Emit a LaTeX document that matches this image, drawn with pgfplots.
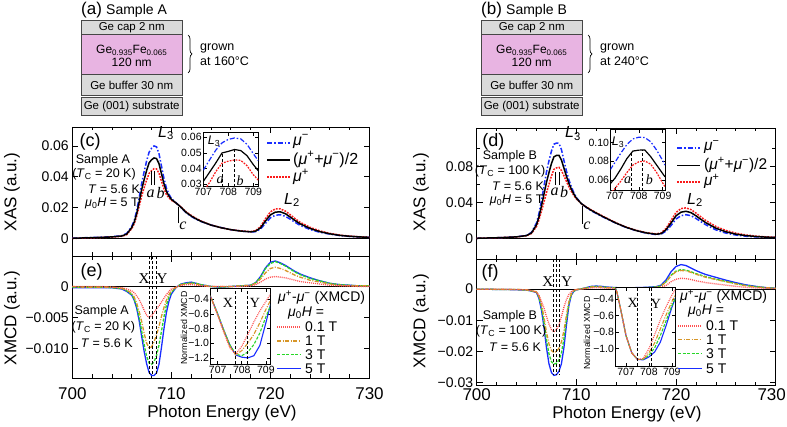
\documentclass[border=0pt]{standalone}
\usepackage{fontspec}
\setmainfont{Liberation Sans}
\newfontfamily\serif{Liberation Serif}
\usepackage{pgfplots}
\usepackage{pgfplotstable}
\pgfplotsset{compat=1.18}
\usetikzlibrary{decorations.pathreplacing}

\definecolor{pinkfill}{RGB}{232,180,226}
\definecolor{greyfill}{RGB}{218,218,218}
\definecolor{boxline}{RGB}{70,70,70}
\definecolor{myblue}{RGB}{25,45,255}
\definecolor{myred}{RGB}{250,25,25}
\definecolor{lred}{RGB}{255,80,80}
\definecolor{myorange}{RGB}{215,150,40}
\definecolor{mygreen}{RGB}{40,215,40}

\newcommand{\fs}[1]{\fontsize{#1}{#1}\selectfont}
\newcommand{\mup}{\textit{μ}\textsuperscript{+}}
\newcommand{\mum}{\textit{μ}\textsuperscript{−}}
\newcommand{\muH}{\textit{μ}\textsubscript{0}\textit{H}}
\newcommand{\Lt}{\textit{L}\textsubscript{3}}
\newcommand{\Ld}{\textit{L}\textsubscript{2}}
\newcommand{\TC}{\textit{T}\textsubscript{C}}
\newcommand{\si}[1]{{\serif\itshape #1}}
\newcommand{\sr}[1]{{\serif #1}}

\pgfplotstableread{
E avg mum mup
700 0.0000 0.0001 -0.0001
701 0.0002 0.0003 0.0001
702 0.0004 0.0005 0.0003
703 0.0006 0.0007 0.0005
704 0.0009 0.0010 0.0008
705 0.0015 0.0017 0.0013
705.5 0.0028 0.0032 0.0024
706 0.0070 0.0077 0.0063
706.25 0.0105 0.0116 0.0094
706.5 0.0160 0.0178 0.0143
706.75 0.0235 0.0263 0.0208
707 0.0315 0.0355 0.0275
707.25 0.0380 0.0432 0.0328
707.5 0.0440 0.0502 0.0378
707.75 0.0490 0.0559 0.0421
708 0.0510 0.0585 0.0439
708.25 0.0522 0.0600 0.0452
708.5 0.0518 0.0594 0.0451
708.75 0.0485 0.0550 0.0423
709 0.0420 0.0469 0.0371
709.25 0.0355 0.0389 0.0321
709.5 0.0305 0.0326 0.0284
709.75 0.0275 0.0287 0.0263
710 0.0253 0.0259 0.0247
710.5 0.0228 0.0229 0.0228
711 0.0200 0.0198 0.0202
711.5 0.0168 0.0165 0.0171
712 0.0145 0.0142 0.0149
712.5 0.0126 0.0124 0.0129
713 0.0110 0.0109 0.0112
714 0.0086 0.0086 0.0086
715 0.0069 0.0070 0.0069
716 0.0056 0.0056 0.0056
717 0.0047 0.0047 0.0048
718 0.0042 0.0041 0.0043
718.5 0.0046 0.0043 0.0049
719 0.0068 0.0060 0.0076
719.5 0.0112 0.0097 0.0127
720 0.0152 0.0133 0.0172
720.5 0.0170 0.0150 0.0191
721 0.0172 0.0153 0.0191
721.5 0.0160 0.0143 0.0177
722 0.0138 0.0124 0.0153
722.5 0.0115 0.0103 0.0127
723 0.0094 0.0084 0.0104
724 0.0064 0.0057 0.0071
725 0.0043 0.0039 0.0048
726 0.0029 0.0027 0.0032
727 0.0019 0.0018 0.0021
728 0.0013 0.0012 0.0014
729 0.0009 0.0009 0.0010
730 0.0006 0.0006 0.0006
}\xasA

\pgfplotstableread{
E avg mum mup
700 0.0000 0.0000 0.0000
701 0.0003 0.0003 0.0003
702 0.0006 0.0006 0.0006
703 0.0010 0.0010 0.0010
704 0.0016 0.0017 0.0015
705 0.0030 0.0032 0.0028
705.5 0.0060 0.0066 0.0054
706 0.0150 0.0170 0.0130
706.25 0.0240 0.0275 0.0205
706.5 0.0360 0.0418 0.0302
706.75 0.0490 0.0578 0.0403
707 0.0620 0.0734 0.0506
707.25 0.0730 0.0861 0.0599
707.5 0.0830 0.0969 0.0692
707.75 0.0905 0.1045 0.0766
708 0.0920 0.1058 0.0782
708.25 0.0922 0.1055 0.0789
708.5 0.0870 0.0986 0.0754
708.75 0.0780 0.0865 0.0695
709 0.0690 0.0748 0.0633
709.25 0.0610 0.0649 0.0571
709.5 0.0545 0.0571 0.0519
709.75 0.0490 0.0506 0.0475
710 0.0445 0.0453 0.0438
710.5 0.0385 0.0386 0.0384
711 0.0345 0.0343 0.0348
711.5 0.0310 0.0306 0.0315
712 0.0280 0.0275 0.0285
712.5 0.0250 0.0246 0.0255
713 0.0222 0.0219 0.0226
714 0.0168 0.0166 0.0171
715 0.0122 0.0120 0.0124
716 0.0086 0.0084 0.0089
717 0.0060 0.0057 0.0063
718 0.0045 0.0041 0.0049
718.5 0.0052 0.0046 0.0059
719 0.0095 0.0080 0.0110
719.5 0.0170 0.0142 0.0198
720 0.0250 0.0214 0.0287
720.5 0.0290 0.0251 0.0330
721 0.0300 0.0262 0.0338
721.5 0.0285 0.0251 0.0319
722 0.0250 0.0220 0.0280
722.5 0.0210 0.0184 0.0237
723 0.0172 0.0149 0.0196
724 0.0112 0.0093 0.0131
725 0.0072 0.0058 0.0087
726 0.0046 0.0036 0.0057
727 0.0030 0.0023 0.0037
728 0.0020 0.0016 0.0025
729 0.0013 0.0011 0.0016
730 0.0009 0.0008 0.0011
}\xasB

\pgfplotstableread{
E h01 h1 h3 h5
700 0.0000 0.0000 -0.0001 -0.0002
701 0.0000 -0.0001 -0.0001 -0.0002
702 0.0000 -0.0001 -0.0001 -0.0002
703 0.0000 -0.0001 -0.0001 -0.0002
704 -0.0001 -0.0001 -0.0002 -0.0002
705 -0.0002 -0.0003 -0.0003 -0.0004
705.5 -0.0004 -0.0006 -0.0007 -0.0008
706 -0.0007 -0.0011 -0.0013 -0.0014
706.25 -0.0010 -0.0017 -0.0020 -0.0022
706.5 -0.0015 -0.0027 -0.0032 -0.0035
706.75 -0.0021 -0.0040 -0.0049 -0.0055
707 -0.0029 -0.0056 -0.0071 -0.0080
707.25 -0.0038 -0.0075 -0.0093 -0.0104
707.5 -0.0046 -0.0091 -0.0112 -0.0124
707.75 -0.0050 -0.0099 -0.0123 -0.0138
708 -0.0047 -0.0097 -0.0125 -0.0143
708.25 -0.0042 -0.0089 -0.0121 -0.0143
708.5 -0.0036 -0.0078 -0.0111 -0.0139
708.75 -0.0031 -0.0064 -0.0094 -0.0125
709 -0.0025 -0.0048 -0.0072 -0.0098
709.25 -0.0019 -0.0034 -0.0049 -0.0068
709.5 -0.0013 -0.0022 -0.0030 -0.0042
709.75 -0.0008 -0.0013 -0.0017 -0.0024
710 -0.0004 -0.0007 -0.0009 -0.0012
710.5 -0.0001 -0.0001 -0.0001 -0.0001
711 0.0002 0.0003 0.0004 0.0004
711.5 0.0003 0.0004 0.0005 0.0006
712 0.0003 0.0005 0.0006 0.0007
712.5 0.0002 0.0004 0.0005 0.0005
713 0.0001 0.0002 0.0003 0.0003
714 0.0000 0.0000 0.0000 0.0000
715 0.0000 0.0000 -0.0001 -0.0001
716 0.0000 0.0000 0.0000 0.0000
717 0.0000 0.0001 0.0001 0.0001
718 0.0001 0.0002 0.0002 0.0002
718.5 0.0003 0.0005 0.0006 0.0006
719 0.0007 0.0012 0.0015 0.0016
719.5 0.0012 0.0022 0.0029 0.0030
720 0.0015 0.0029 0.0037 0.0039
720.5 0.0016 0.0031 0.0040 0.0041
721 0.0015 0.0029 0.0037 0.0038
721.5 0.0014 0.0026 0.0033 0.0034
722 0.0012 0.0022 0.0028 0.0029
722.5 0.0010 0.0018 0.0023 0.0024
723 0.0008 0.0015 0.0019 0.0020
724 0.0006 0.0010 0.0013 0.0014
725 0.0004 0.0007 0.0009 0.0009
726 0.0002 0.0004 0.0005 0.0005
727 0.0001 0.0002 0.0003 0.0003
728 0.0001 0.0001 0.0002 0.0002
729 0.0000 0.0001 0.0001 0.0001
730 0.0000 0.0001 0.0001 0.0001
}\xmcdA

\pgfplotstableread{
E h01 h1 h3 h5
700 0.0000 0.0000 0.0000 0.0000
701 0.0000 0.0000 0.0000 0.0000
702 0.0000 0.0000 -0.0001 -0.0001
703 0.0000 -0.0001 -0.0001 -0.0001
704 -0.0001 -0.0001 -0.0001 -0.0002
705 -0.0002 -0.0002 -0.0003 -0.0003
705.5 -0.0005 -0.0005 -0.0006 -0.0006
706 -0.0010 -0.0008 -0.0010 -0.0011
706.25 -0.0020 -0.0022 -0.0026 -0.0030
706.5 -0.0040 -0.0050 -0.0059 -0.0068
706.75 -0.0060 -0.0090 -0.0106 -0.0122
707 -0.0088 -0.0138 -0.0163 -0.0188
707.25 -0.0112 -0.0176 -0.0208 -0.0240
707.5 -0.0130 -0.0197 -0.0233 -0.0268
707.75 -0.0137 -0.0204 -0.0241 -0.0277
708 -0.0130 -0.0200 -0.0238 -0.0275
708.25 -0.0115 -0.0190 -0.0228 -0.0264
708.5 -0.0088 -0.0170 -0.0205 -0.0240
708.75 -0.0058 -0.0134 -0.0160 -0.0188
709 -0.0034 -0.0085 -0.0098 -0.0116
709.25 -0.0017 -0.0040 -0.0045 -0.0052
709.5 -0.0008 -0.0015 -0.0017 -0.0019
709.75 -0.0003 -0.0005 -0.0006 -0.0007
710 -0.0001 -0.0001 -0.0002 -0.0002
710.5 0.0000 0.0001 0.0001 0.0001
711 0.0002 0.0004 0.0004 0.0005
711.5 0.0004 0.0007 0.0008 0.0009
712 0.0005 0.0008 0.0009 0.0010
712.5 0.0004 0.0007 0.0008 0.0009
713 0.0003 0.0005 0.0006 0.0007
714 0.0002 0.0004 0.0004 0.0005
715 0.0002 0.0003 0.0003 0.0004
716 0.0002 0.0003 0.0004 0.0005
717 0.0003 0.0004 0.0005 0.0006
718 0.0004 0.0006 0.0007 0.0008
718.5 0.0006 0.0010 0.0011 0.0013
719 0.0012 0.0023 0.0024 0.0030
719.5 0.0024 0.0043 0.0045 0.0056
720 0.0032 0.0056 0.0058 0.0073
720.5 0.0035 0.0060 0.0063 0.0079
721 0.0034 0.0059 0.0061 0.0076
721.5 0.0031 0.0054 0.0056 0.0068
722 0.0027 0.0048 0.0050 0.0060
722.5 0.0024 0.0043 0.0045 0.0053
723 0.0021 0.0038 0.0040 0.0047
724 0.0017 0.0031 0.0032 0.0038
725 0.0013 0.0024 0.0025 0.0029
726 0.0009 0.0017 0.0018 0.0021
727 0.0006 0.0011 0.0012 0.0014
728 0.0004 0.0007 0.0008 0.0009
729 0.0003 0.0005 0.0005 0.0005
730 0.0002 0.0003 0.0003 0.0003
}\xmcdB

\pgfplotstableread{
E avg mum mup
707 0.0317 0.0389 0.0252
707.25 0.0376 0.0455 0.0310
707.5 0.0436 0.0518 0.0380
707.75 0.0500 0.0565 0.0434
708 0.0510 0.0587 0.0447
708.25 0.0522 0.0596 0.0455
708.5 0.0515 0.0590 0.0452
708.75 0.0482 0.0555 0.0418
709 0.0425 0.0495 0.0360
709.2 0.0385 0.0450 0.0325
}\insA

\pgfplotstableread{
E avg mum mup
706.8 0.0560 0.0710 0.0450
707 0.0620 0.0790 0.0510
707.25 0.0720 0.0890 0.0590
707.5 0.0830 0.0980 0.0680
707.75 0.0910 0.1040 0.0760
708 0.0920 0.1058 0.0795
708.25 0.0922 0.1055 0.0804
708.5 0.0850 0.1010 0.0770
708.75 0.0760 0.0920 0.0680
709 0.0670 0.0810 0.0570
709.1 0.0634 0.0760 0.0530
}\insB

\pgfplotstableread{
E n01 n1 n3 n5
706.5 -0.22 -0.22 -0.22 -0.22
706.75 -0.40 -0.40 -0.40 -0.40
707 -0.62 -0.61 -0.60 -0.60
707.25 -0.85 -0.83 -0.82 -0.82
707.5 -1.06 -1.04 -1.02 -1.02
707.75 -1.15 -1.16 -1.15 -1.16
708 -1.04 -1.10 -1.17 -1.19
708.25 -0.88 -1.00 -1.12 -1.20
708.5 -0.71 -0.88 -1.02 -1.17
708.75 -0.56 -0.72 -0.86 -1.03
709 -0.43 -0.54 -0.64 -0.72
709.25 -0.30 -0.38 -0.44 -0.40
}\nA

\pgfplotstableread{
E n01 n1 n3 n5
706.45 -0.20 -0.20 -0.20 -0.20
706.6 -0.31 -0.31 -0.31 -0.31
706.75 -0.50 -0.50 -0.50 -0.50
707 -0.84 -0.84 -0.84 -0.84
707.25 -1.05 -1.05 -1.05 -1.05
707.5 -1.13 -1.13 -1.13 -1.13
707.75 -1.12 -1.13 -1.13 -1.135
708 -1.00 -1.05 -1.08 -1.10
708.25 -0.83 -0.93 -0.99 -1.04
708.5 -0.65 -0.76 -0.84 -0.92
708.75 -0.49 -0.59 -0.66 -0.72
709 -0.35 -0.43 -0.48 -0.50
709.2 -0.26 -0.32 -0.36 -0.35
}\nB

\tikzset{
 lmum/.style={color=myblue, line width=1.5pt, dash pattern=on 5pt off 2pt on 1.5pt off 2pt},
 lavg/.style={color=black, line width=1.5pt},
 lmup/.style={color=myred, line width=1.5pt, dash pattern=on 1.8pt off 1.2pt},
 l01/.style={color=lred, line width=1.3pt, dash pattern=on 1pt off 1pt},
 l1/.style={color=myorange, line width=1.3pt, dash pattern=on 4pt off 1.5pt on 1pt off 1.5pt},
 l3/.style={color=mygreen, line width=1.3pt, dash pattern=on 3pt off 1.5pt},
 l5/.style={color=myblue, line width=1.3pt},
}
\pgfplotsset{
 panel/.style={scale only axis, axis line style={line width=0.9pt},
   tick style={black, line width=0.8pt}, scaled ticks=false,
   major tick length=6pt, minor tick length=3.5pt, tick align=inside,
   xmin=700, xmax=730, xtick={700,710,720,730},
   minor xtick={702,704,706,708,712,714,716,718,722,724,726,728},
   tick label style={font=\fs{14}}, /pgf/number format/assume math mode=true},
 inset/.style={scale only axis, axis line style={line width=0.8pt}, scaled ticks=false,
   tick style={black, line width=0.6pt}, major tick length=3.5pt, tick align=inside,
   tick label style={font=\fs{10.5}, inner sep=1.5pt}, axis background/.style={fill=white},
   /pgf/number format/assume math mode=true},
}

\begin{document}
\begin{tikzpicture}[x=1pt,y=1pt]
\useasboundingbox (0,0) rectangle (787,426);

% ===== Layer diagrams =====
\foreach \ox/\lab/\smp/\temp in {0/a/A/160, 400/b/B/240}{
  \begin{scope}[xshift=\ox pt]
  \node[anchor=west, font=\fs{17}, inner sep=0] at (81,426-10) {(\lab)};
  \node[anchor=west, font=\fs{14}, inner sep=0] at (106,426-10.5) {Sample \smp};
  \draw[boxline, line width=0.9pt, fill=greyfill] (81,426-20.7) rectangle (182.3,426-34.3);
  \draw[boxline, line width=0.9pt, fill=pinkfill] (81,426-34.3) rectangle (182.3,426-74);
  \draw[boxline, line width=0.9pt, fill=greyfill] (81,426-74) rectangle (182.3,426-95.7);
  \draw[boxline, line width=0.9pt, fill=greyfill] (81,426-97.5) rectangle (182.3,426-115);
  \node[font=\fs{11.5}] at (131.7,426-27.5) {Ge cap 2 nm};
  \node[font=\fs{12}] at (131.7,426-50) {Ge\textsubscript{0.935}Fe\textsubscript{0.065}};
  \node[font=\fs{12}] at (131.7,426-62) {120 nm};
  \node[font=\fs{11.5}] at (131.7,426-85) {Ge buffer 30 nm};
  \node[font=\fs{11.5}] at (131.7,426-106.3) {Ge (001) substrate};
  \draw[line width=0.7pt, decorate, decoration={brace, amplitude=4pt}] (188,426-35) -- (188,426-73);
  \node[anchor=west, font=\fs{12.5}, inner sep=0] at (200,426-48) {grown};
  \node[anchor=west, font=\fs{12.5}, inner sep=0] at (200,426-61.5) {at \temp°C};
  \end{scope}
}

% ===== (c) XAS sample A =====
\begin{axis}[panel, at={(72.3pt,299pt)}, anchor=north west, width=297.2pt, height=129pt,
  ymin=-0.0115, ymax=0.0723, ytick={0,0.02,0.04,0.06}, yticklabels={0,0.02,0.04,0.06},
  xticklabels={}]
\draw[line width=0.9pt] (axis cs:700,0) -- (axis cs:730,0);
\addplot[lmum] table[x=E,y=mum] {\xasA};
\addplot[lmup] table[x=E,y=mup] {\xasA};
\addplot[lavg] table[x=E,y=avg] {\xasA};
\draw[line width=0.8pt] (axis cs:707.95,0.0345) -- (axis cs:707.95,0.0440);
\draw[line width=0.8pt] (axis cs:708.3,0.0345) -- (axis cs:708.3,0.0440);
\draw[line width=0.8pt] (axis cs:710.75,0.0097) -- (axis cs:710.75,0.0205);
\end{axis}

% inset (c)
\begin{axis}[inset, at={(203.3pt,293.3pt)}, anchor=north west, width=55pt, height=54pt,
  xmin=707, xmax=709.2, ymin=0.0283, ymax=0.063,
  xtick={707,708,709}, xticklabels={707,708,709},
  ytick={0.03,0.04,0.05,0.06}, yticklabels={0.03,0.04,0.05,0.06}]
\addplot[lmum, line width=1.2pt] table[x=E,y=mum] {\insA};
\addplot[lmup, line width=1.2pt] table[x=E,y=mup] {\insA};
\addplot[lavg, line width=1.2pt] table[x=E,y=avg] {\insA};
\draw[densely dashed, line width=0.7pt] (axis cs:707.75,0.0283) -- (axis cs:707.75,0.0500);
\draw[densely dashed, line width=0.7pt] (axis cs:708.25,0.0283) -- (axis cs:708.25,0.0522);
\end{axis}

% ===== (e) XMCD sample A =====
\begin{axis}[panel, at={(72.3pt,170pt)}, anchor=north west, width=297.2pt, height=122pt,
  ymin=-0.0147, ymax=0.0049, ytick={0,-0.005,-0.010}, yticklabels={0,−0.005,−0.010},
  xticklabels={700,710,720,730}, xticklabel style={font=\fs{17}, yshift=-6pt}]
\draw[line width=0.9pt] (axis cs:700,0) -- (axis cs:730,0);
\addplot[l5] table[x=E,y=h5] {\xmcdA};
\addplot[l3] table[x=E,y=h3] {\xmcdA};
\addplot[l1] table[x=E,y=h1] {\xmcdA};
\addplot[l01] table[x=E,y=h01] {\xmcdA};
\draw[densely dashed, line width=0.7pt] (axis cs:707.75,0.0049) -- (axis cs:707.75,-0.0143);
\draw[densely dashed, line width=0.7pt] (axis cs:708.1,0.0049) -- (axis cs:708.1,-0.0143);
\draw[densely dashed, line width=0.7pt] (axis cs:708.45,0.0049) -- (axis cs:708.45,-0.0143);
\end{axis}

% inset (e)
\begin{axis}[inset, at={(210.7pt,138pt)}, anchor=north west, width=59.3pt, height=76pt,
  xmin=706.71, xmax=709.17, ymin=-1.283, ymax=-0.248,
  xtick={707,708,709}, xticklabels={707,708,709},
  ytick={-1.2,-1.0,-0.8,-0.6,-0.4}, yticklabels={−1.2,−1.0,−0.8,−0.6,−0.4}]
\addplot[l5, line width=1.1pt] table[x=E,y=n5] {\nA};
\addplot[l3, line width=1.1pt] table[x=E,y=n3] {\nA};
\addplot[l1, line width=1.1pt] table[x=E,y=n1] {\nA};
\addplot[l01, line width=1.1pt] table[x=E,y=n01] {\nA};
\draw[densely dashed, line width=0.7pt] (axis cs:707.75,-1.283) -- (axis cs:707.75,-0.248);
\draw[densely dashed, line width=0.7pt] (axis cs:708.25,-1.283) -- (axis cs:708.25,-0.248);
\end{axis}

% ===== (d) XAS sample B =====
\begin{axis}[panel, at={(476.7pt,298pt)}, anchor=north west, width=299pt, height=131pt,
  ymin=-0.0230, ymax=0.1225, ytick={0,0.04,0.08}, yticklabels={0,0.04,0.08},
  minor ytick={0.02,0.06,0.10}, xticklabels={}]
\draw[line width=0.9pt] (axis cs:700,0) -- (axis cs:730,0);
\addplot[lmum] table[x=E,y=mum] {\xasB};
\addplot[lmup] table[x=E,y=mup] {\xasB};
\addplot[lavg] table[x=E,y=avg] {\xasB};
\draw[line width=0.8pt] (axis cs:707.93,0.059) -- (axis cs:707.93,0.074);
\draw[line width=0.8pt] (axis cs:708.26,0.059) -- (axis cs:708.26,0.074);
\draw[line width=0.8pt] (axis cs:710.63,0.016) -- (axis cs:710.63,0.036);
\end{axis}

% inset (d)
\begin{axis}[inset, at={(610.7pt,296.7pt)}, anchor=north west, width=54.3pt, height=61.4pt,
  xmin=706.82, xmax=709.1, ymin=0.0486, ymax=0.1143,
  xtick={707,708,709}, xticklabels={707,708,709},
  ytick={0.06,0.08,0.10}, yticklabels={0.06,0.08,0.10}]
\addplot[lmum, line width=1.2pt] table[x=E,y=mum] {\insB};
\addplot[lmup, line width=1.2pt] table[x=E,y=mup] {\insB};
\addplot[lavg, line width=1.2pt] table[x=E,y=avg] {\insB};
\draw[densely dashed, line width=0.7pt] (axis cs:707.7,0.0486) -- (axis cs:707.7,0.0910);
\draw[densely dashed, line width=0.7pt] (axis cs:708.15,0.0486) -- (axis cs:708.15,0.0921);
\end{axis}

% ===== (f) XMCD sample B =====
\begin{axis}[panel, at={(476.7pt,167pt)}, anchor=north west, width=299pt, height=126pt,
  ymin=-0.0308, ymax=0.0097, ytick={0,-0.01,-0.02,-0.03}, yticklabels={0,−0.01,−0.02,−0.03},
  xticklabels={700,710,720,{\hspace*{-8pt}730}}, xticklabel style={font=\fs{17}}]
\draw[line width=0.9pt] (axis cs:700,0) -- (axis cs:730,0);
\addplot[l5] table[x=E,y=h5] {\xmcdB};
\addplot[l3] table[x=E,y=h3] {\xmcdB};
\addplot[l1] table[x=E,y=h1] {\xmcdB};
\addplot[l01] table[x=E,y=h01] {\xmcdB};
\draw[densely dashed, line width=0.7pt] (axis cs:707.67,0.0097) -- (axis cs:707.67,-0.0277);
\draw[densely dashed, line width=0.7pt] (axis cs:707.97,0.0097) -- (axis cs:707.97,-0.0277);
\draw[densely dashed, line width=0.7pt] (axis cs:708.27,0.0097) -- (axis cs:708.27,-0.0277);
\end{axis}

% inset (f)
\begin{axis}[inset, at={(615.7pt,138.3pt)}, anchor=north west, width=59.3pt, height=78.3pt,
  xmin=706.55, xmax=709.14, ymin=-1.21, ymax=-0.259,
  xtick={707,708,709}, xticklabels={707,708,709},
  ytick={-1.0,-0.8,-0.6,-0.4}, yticklabels={−1.0,−0.8,−0.6,−0.4}]
\addplot[l5, line width=1.1pt] table[x=E,y=n5] {\nB};
\addplot[l3, line width=1.1pt] table[x=E,y=n3] {\nB};
\addplot[l1, line width=1.1pt] table[x=E,y=n1] {\nB};
\addplot[l01, line width=1.1pt] table[x=E,y=n01] {\nB};
\draw[densely dashed, line width=0.7pt] (axis cs:707.5,-1.21) -- (axis cs:707.5,-0.259);
\draw[densely dashed, line width=0.7pt] (axis cs:708.1,-1.21) -- (axis cs:708.1,-0.259);
\end{axis}

% ===== axis labels =====
\node[rotate=90, font=\fs{17}] at (12,426-192) {XAS (a.u.)};
\node[rotate=90, font=\fs{17}] at (12,426-318) {XMCD (a.u.)};
\node[rotate=90, font=\fs{17}] at (421,426-192) {XAS (a.u.)};
\node[rotate=90, font=\fs{17}] at (421,426-321) {XMCD (a.u.)};
\node[font=\fs{17}] at (222,426-413) {Photon Energy (eV)};
\node[font=\fs{17}] at (627,426-414) {Photon Energy (eV)};
\node[rotate=90, font=\fs{8.8}] at (184,426-328) {Normalized XMCD};
\node[rotate=90, font=\fs{8.8}] at (587,426-333) {Normalized XMCD};

% ===== annotations (c) =====
\node[font=\fs{18}] at (90,426-141.7) {(c)};
\node[font=\fs{16}] at (166,426-133) {\Lt};
\node[font=\fs{12.5}] at (103,426-160) {Sample A};
\node[font=\fs{12.5}] at (104,426-174.5) {(\TC\ = 20 K)};
\node[font=\fs{12.5}] at (114,426-189.3) {\textit{T} = 5.6 K};
\node[font=\fs{12.5}] at (112,426-203) {\muH\ = 5 T};
\node[font=\fs{16}] at (150.5,426-193.5) {\si{a}};
\node[font=\fs{16}] at (160.5,426-193.5) {\si{b}};
\node[font=\fs{16}] at (183,426-226) {\si{c}};
\node[font=\fs{16}] at (292,426-200) {\Ld};
\node[font=\fs{12.5}] at (214,426-141) {\Lt};
\node[font=\fs{14}] at (220,426-180.5) {\si{a}};
\node[font=\fs{14}] at (240,426-180.5) {\si{b}};
% legend (c)
\draw[lmum, line width=1.7pt] (267,426-142.7) -- (290,426-142.7);
\draw[lavg, line width=1.7pt] (267,426-160) -- (290,426-160);
\draw[lmup, line width=1.7pt] (267,426-177.3) -- (290,426-177.3);
\node[anchor=west, font=\fs{16}, inner sep=0] at (293,426-141.5) {\mum};
\node[anchor=west, font=\fs{16}, inner sep=0] at (293,426-159.5) {(\mup+\mum)/2};
\node[anchor=west, font=\fs{16}, inner sep=0] at (293,426-176.5) {\mup};

% ===== annotations (d) =====
\node[font=\fs{18}] at (493.3,426-141.7) {(d)};
\node[font=\fs{16}] at (573,426-133.3) {\Lt};
\node[font=\fs{12.5}] at (510,426-156.7) {Sample B};
\node[font=\fs{12.5}] at (510,426-171) {(\TC\ = 100 K)};
\node[font=\fs{12.5}] at (518,426-186) {\textit{T} = 5.6 K};
\node[font=\fs{12.5}] at (516.7,426-200) {\muH\ = 5 T};
\node[font=\fs{16}] at (554.5,426-191.7) {\si{a}};
\node[font=\fs{16}] at (564,426-191.7) {\si{b}};
\node[font=\fs{16}] at (587,426-226) {\si{c}};
\node[font=\fs{16}] at (695,426-200) {\Ld};
\node[font=\fs{12.5}] at (618,426-142) {\Lt};
\node[font=\fs{14}] at (627.7,426-180) {\si{a}};
\node[font=\fs{14}] at (649.3,426-180) {\si{b}};
\draw[lmum, line width=1.7pt] (677,426-148.3) -- (700,426-148.3);
\draw[lavg, line width=1.7pt] (677,426-165.5) -- (700,426-165.5);
\draw[lmup, line width=1.7pt] (677,426-182) -- (700,426-182);
\node[anchor=west, font=\fs{15.5}, inner sep=0] at (704,426-147) {\mum};
\node[anchor=west, font=\fs{15.5}, inner sep=0] at (704,426-165) {(\mup+\mum)/2};
\node[anchor=west, font=\fs{15.5}, inner sep=0] at (704,426-181.5) {\mup};

% ===== annotations (e) =====
\node[font=\fs{18}] at (91.7,426-271.7) {(e)};
\node[font=\fs{15}] at (144,426-278.3) {\sr{X}};
\node[font=\fs{15}] at (162,426-278.3) {\sr{Y}};
\node[font=\fs{12.5}] at (101.7,426-311.7) {Sample A};
\node[font=\fs{12.5}] at (103.3,426-327.3) {(\TC\ = 20 K)};
\node[font=\fs{12.5}] at (106.7,426-342.7) {\textit{T} = 5.6 K};
\node[font=\fs{14}] at (228,426-302.7) {\sr{X}};
\node[font=\fs{14}] at (255,426-302.7) {\sr{Y}};
\node[anchor=west, font=\fs{14}, inner sep=0] at (278,426-298) {\mup-\mum\ (XMCD)};
\node[anchor=west, font=\fs{14}, inner sep=0] at (288,426-313) {\muH\ =};
\draw[l01, line width=1.6pt] (277,426-326.7) -- (301,426-326.7);
\draw[l1, line width=1.6pt] (277,426-340.7) -- (301,426-340.7);
\draw[l3, line width=1.6pt] (277,426-354.3) -- (301,426-354.3);
\draw[l5, line width=1.6pt] (277,426-368.3) -- (301,426-368.3);
\node[anchor=west, font=\fs{14}, inner sep=0] at (305,426-326.7) {0.1 T};
\node[anchor=west, font=\fs{14}, inner sep=0] at (305,426-340.7) {1 T};
\node[anchor=west, font=\fs{14}, inner sep=0] at (305,426-354.3) {3 T};
\node[anchor=west, font=\fs{14}, inner sep=0] at (305,426-368.3) {5 T};

% ===== annotations (f) =====
\node[font=\fs{18}] at (490,426-273.3) {(f)};
\node[font=\fs{15}] at (547.7,426-281.7) {\sr{X}};
\node[font=\fs{15}] at (566.7,426-281.7) {\sr{Y}};
\node[font=\fs{12.5}] at (510,426-316.7) {Sample B};
\node[font=\fs{12.5}] at (511,426-331.7) {(\TC\ = 100 K)};
\node[font=\fs{12.5}] at (515,426-347.3) {\textit{T} = 5.6 K};
\node[font=\fs{14}] at (632.7,426-302.7) {\sr{X}};
\node[font=\fs{14}] at (656,426-304.3) {\sr{Y}};
\node[anchor=west, font=\fs{14}, inner sep=0] at (680,426-297) {\mup-\mum\ (XMCD)};
\node[anchor=west, font=\fs{14}, inner sep=0] at (688,426-311) {\muH\ =};
\draw[l01, line width=1.6pt] (678,426-326) -- (702,426-326);
\draw[l1, line width=1.6pt] (678,426-339.3) -- (702,426-339.3);
\draw[l3, line width=1.6pt] (678,426-353.3) -- (702,426-353.3);
\draw[l5, line width=1.6pt] (678,426-368.3) -- (702,426-368.3);
\node[anchor=west, font=\fs{14}, inner sep=0] at (706,426-326) {0.1 T};
\node[anchor=west, font=\fs{14}, inner sep=0] at (706,426-339.3) {1 T};
\node[anchor=west, font=\fs{14}, inner sep=0] at (706,426-353.3) {3 T};
\node[anchor=west, font=\fs{14}, inner sep=0] at (706,426-368.3) {5 T};
\end{tikzpicture}
\end{document}
